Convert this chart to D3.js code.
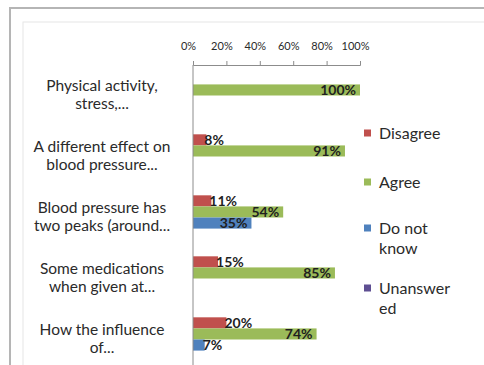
<!DOCTYPE html>
<html>
<head>
<meta charset="utf-8">
<script src="https://cdn.jsdelivr.net/npm/d3@7"></script>
<style>
  html, body { margin: 0; padding: 0; background: #fff; }
  svg { display: block; font-family: Lato, "Open Sans", sans-serif; }
</style>
</head>
<body>
<svg id="chart" width="484" height="365"></svg>
<script>
// Survey statements (wrapped onto two lines) and answer shares in percent
const categories = [
  "Physical activity,\nstress,...",
  "A different effect on\nblood pressure...",
  "Blood pressure has\ntwo peaks (around...",
  "Some medications\nwhen given at...",
  "How the influence\nof..."
];
const seriesNames = ["Disagree", "Agree", "Do not know", "Unanswered"];
const legendLabels = ["Disagree", "Agree", "Do not\nknow", "Unanswer\ned"];
const disagree   = [0, 8, 11, 15, 20];
const agree      = [100, 91, 54, 85, 74];
const doNotKnow  = [0, 0, 35, 0, 7];
const unanswered = [0, 0, 0, 0, 0];
const tickValues = [0, 20, 40, 60, 80, 100];
const seriesColors = ["#C0504D", "#9BBB59", "#4F81BD", "#5E4F92"];

const values = [disagree, agree, doNotKnow, unanswered];
const rows = categories.map((c, i) => ({
  category: c,
  cells: seriesNames.map((s, k) => ({ series: s, value: values[k][i], color: seriesColors[k] }))
}));

const svg = d3.select("#chart");

// chart frame
svg.append("rect").attr("x", 10).attr("y", 8).attr("width", 500).attr("height", 400)
  .attr("fill", "#fff").attr("stroke", "#b5b5b5").attr("stroke-width", 2);
svg.append("rect").attr("x", 23).attr("y", 22).attr("width", 480).attr("height", 400)
  .attr("fill", "none").attr("stroke", "#e6e6e6").attr("stroke-width", 1);

const plotLeft = 193, plotRight = 360, plotTop = 65, step = 61;
const gapRatio = 1.5 / 5.5;

const x = d3.scaleLinear().domain([0, 100]).range([plotLeft, plotRight]);
const y = d3.scaleBand().domain(categories)
  .range([plotTop, plotTop + step * categories.length])
  .paddingInner(gapRatio).paddingOuter(gapRatio / 2);
const ySub = d3.scaleBand().domain(seriesNames).range([0, y.bandwidth()]);

// bars
const groups = svg.append("g").selectAll("g").data(rows).join("g")
  .attr("transform", d => `translate(0,${y(d.category)})`);

groups.selectAll("rect").data(d => d.cells.filter(c => c.value > 0)).join("rect")
  .attr("x", x(0))
  .attr("y", d => ySub(d.series))
  .attr("width", d => x(d.value) - x(0))
  .attr("height", ySub.bandwidth())
  .attr("fill", d => d.color);

// value labels: inside the bar end when they fit, otherwise just past it
groups.selectAll("text").data(d => d.cells.filter(c => c.value > 0)).join("text")
  .attr("y", d => ySub(d.series) + ySub.bandwidth() / 2)
  .attr("dy", "0.36em")
  .attr("font-size", 14)
  .attr("font-weight", "bold")
  .attr("fill", "#1f1f1f")
  .text(d => d.value + "%")
  .each(function (d) {
    const w = this.getComputedTextLength();
    const end = x(d.value);
    if (end - x(0) >= w + 6) {
      d3.select(this).attr("x", end - 4).attr("text-anchor", "end");
    } else {
      d3.select(this).attr("x", end - 2).attr("text-anchor", "start");
    }
  });

// top value axis
const xAxis = d3.axisTop(x).tickValues(tickValues).tickFormat(d => d + "%")
  .tickSize(4).tickPadding(11);
const gx = svg.append("g").attr("transform", `translate(0,${plotTop})`).call(xAxis);
gx.select(".domain").attr("stroke", "#8c8c8c");
gx.selectAll(".tick line").attr("stroke", "#8c8c8c");
gx.selectAll(".tick text").attr("font-size", 11).attr("fill", "#2a2a2a")
  .attr("font-family", "Lato, sans-serif").attr("x", -5);

// category axis
svg.append("line")
  .attr("x1", plotLeft).attr("x2", plotLeft)
  .attr("y1", plotTop).attr("y2", plotTop + step * categories.length)
  .attr("stroke", "#8c8c8c");

const catLabels = svg.append("g").selectAll("text").data(categories).join("text")
  .attr("text-anchor", "middle")
  .attr("font-size", 15.5)
  .attr("fill", "#2a2a2a");
catLabels.each(function (c) {
  const lines = c.split("\n");
  const cy = y(c) + y.bandwidth() / 2 - 1;
  const lh = 18;
  d3.select(this).selectAll("tspan").data(lines).join("tspan")
    .attr("x", 102)
    .attr("y", (l, i) => cy + (i - (lines.length - 1) / 2) * lh)
    .attr("dy", "0.35em")
    .text(l => l);
});

// legend
const legendY = [133, 182, 228, 288];
const legend = svg.append("g").selectAll("g").data(seriesNames).join("g")
  .attr("transform", (d, i) => `translate(0,${legendY[i]})`);
legend.append("rect").attr("x", 364).attr("y", -3.5).attr("width", 7).attr("height", 7)
  .attr("fill", (d, i) => seriesColors[i]);
legend.append("text").attr("font-size", 16).attr("fill", "#2a2a2a")
  .each(function (d, i) {
    const lines = legendLabels[i].split("\n");
    d3.select(this).selectAll("tspan").data(lines).join("tspan")
      .attr("x", 379).attr("y", (l, j) => j * 20).attr("dy", "0.35em").text(l => l);
  });
</script>
</body>
</html>
